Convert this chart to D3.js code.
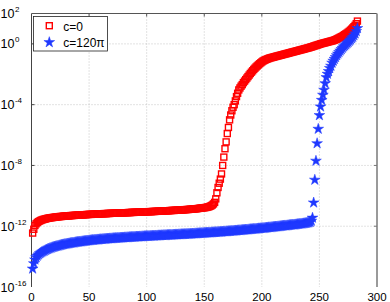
<!DOCTYPE html>
<html>
<head>
<meta charset="utf-8">
<script src="https://cdn.jsdelivr.net/npm/d3@7"></script>
<style>
  html, body { margin: 0; padding: 0; background: #fff; }
  svg { display: block; }
  text { font-family: "Liberation Sans", Arial, sans-serif; fill: #000; }
</style>
</head>
<body>
<div id="chart"></div>
<script>
// series labels
var seriesNames = ["c=0", "c=120\u03C0"];

// log10 of the plotted values, index 1..283
var redExp = [
  -12.45,-12.2,-11.95,-11.84,-11.76,-11.70,-11.66,-11.62,-11.59,-11.56,
  -11.54,-11.52,-11.50,-11.48,-11.47,-11.45,-11.44,-11.43,-11.42,-11.41,
  -11.40,-11.39,-11.38,-11.37,-11.36,-11.36,-11.35,-11.34,-11.33,-11.33,
  -11.32,-11.32,-11.31,-11.30,-11.30,-11.29,-11.29,-11.28,-11.28,-11.27,
  -11.27,-11.26,-11.26,-11.25,-11.25,-11.24,-11.24,-11.23,-11.23,-11.22,
  -11.22,-11.22,-11.21,-11.21,-11.20,-11.20,-11.20,-11.19,-11.19,-11.18,
  -11.18,-11.18,-11.17,-11.17,-11.17,-11.16,-11.16,-11.16,-11.15,-11.15,
  -11.15,-11.14,-11.14,-11.14,-11.13,-11.13,-11.13,-11.12,-11.12,-11.12,
  -11.11,-11.11,-11.11,-11.10,-11.10,-11.10,-11.09,-11.09,-11.09,-11.08,
  -11.08,-11.08,-11.07,-11.07,-11.07,-11.06,-11.06,-11.06,-11.05,-11.05,
  -11.05,-11.04,-11.04,-11.04,-11.03,-11.03,-11.03,-11.02,-11.02,-11.01,
  -11.01,-11.01,-11.00,-11.00,-10.99,-10.99,-10.99,-10.98,-10.98,-10.97,
  -10.97,-10.96,-10.96,-10.96,-10.95,-10.95,-10.94,-10.94,-10.93,-10.93,
  -10.92,-10.92,-10.91,-10.91,-10.90,-10.90,-10.89,-10.88,-10.88,-10.87,
  -10.86,-10.86,-10.85,-10.84,-10.83,-10.82,-10.81,-10.80,-10.79,-10.78,
  -10.77,-10.76,-10.74,-10.72,-10.69,-10.65,-10.60,-10.53,-10.43,-10.2,
  -9.8,-9.45,-9.17,-8.9,-8.56,-8.0,-7.45,-6.9,-6.45,-5.9,
  -5.5,-5.0,-4.68,-4.4,-4.17,-4.0,-3.75,-3.47,-3.25,-3.03,
  -2.9,-2.78,-2.68,-2.55,-2.45,-2.35,-2.25,-2.15,-2.05,-1.95,
  -1.86,-1.77,-1.68,-1.60,-1.52,-1.45,-1.38,-1.31,-1.25,-1.19,
  -1.13,-1.09,-1.05,-1.02,-0.99,-0.96,-0.93,-0.91,-0.89,-0.87,
  -0.85,-0.83,-0.81,-0.79,-0.77,-0.75,-0.73,-0.71,-0.69,-0.67,
  -0.65,-0.63,-0.61,-0.59,-0.57,-0.55,-0.53,-0.51,-0.49,-0.47,
  -0.45,-0.43,-0.41,-0.39,-0.37,-0.35,-0.33,-0.31,-0.29,-0.27,
  -0.25,-0.22,-0.20,-0.18,-0.15,-0.13,-0.10,-0.08,-0.05,-0.03,
  0.00,0.02,0.04,0.06,0.08,0.10,0.12,0.14,0.16,0.18,
  0.20,0.22,0.25,0.28,0.31,0.35,0.39,0.43,0.47,0.51,
  0.56,0.61,0.66,0.71,0.77,0.83,0.90,0.97,1.05,1.13,
  1.22,1.33,1.50
];

var blueExp = [
  -14.8,-14.45,-14.2,-14.05,-13.95,-13.87,-13.8,-13.75,-13.7,-13.66,
  -13.62,-13.58,-13.54,-13.51,-13.48,-13.45,-13.42,-13.39,-13.37,-13.35,
  -13.33,-13.31,-13.29,-13.27,-13.25,-13.23,-13.21,-13.20,-13.18,-13.17,
  -13.15,-13.14,-13.13,-13.11,-13.10,-13.09,-13.08,-13.06,-13.05,-13.04,
  -13.03,-13.02,-13.01,-13.00,-12.99,-12.98,-12.97,-12.96,-12.95,-12.94,
  -12.93,-12.92,-12.91,-12.91,-12.90,-12.89,-12.88,-12.88,-12.87,-12.86,
  -12.86,-12.85,-12.84,-12.84,-12.83,-12.82,-12.82,-12.81,-12.81,-12.80,
  -12.79,-12.79,-12.78,-12.78,-12.77,-12.77,-12.76,-12.76,-12.75,-12.75,
  -12.74,-12.74,-12.73,-12.73,-12.72,-12.72,-12.71,-12.71,-12.70,-12.70,
  -12.69,-12.69,-12.69,-12.68,-12.68,-12.67,-12.67,-12.66,-12.66,-12.65,
  -12.65,-12.65,-12.64,-12.64,-12.63,-12.63,-12.63,-12.62,-12.62,-12.61,
  -12.61,-12.61,-12.60,-12.60,-12.59,-12.59,-12.59,-12.58,-12.58,-12.57,
  -12.57,-12.57,-12.56,-12.56,-12.55,-12.55,-12.55,-12.54,-12.54,-12.53,
  -12.53,-12.53,-12.52,-12.52,-12.51,-12.51,-12.51,-12.50,-12.50,-12.49,
  -12.49,-12.48,-12.48,-12.47,-12.47,-12.46,-12.46,-12.45,-12.45,-12.44,
  -12.44,-12.43,-12.43,-12.42,-12.42,-12.41,-12.41,-12.40,-12.40,-12.39,
  -12.39,-12.38,-12.38,-12.37,-12.37,-12.36,-12.35,-12.35,-12.34,-12.34,
  -12.33,-12.33,-12.32,-12.31,-12.31,-12.30,-12.29,-12.29,-12.28,-12.27,
  -12.27,-12.26,-12.25,-12.25,-12.24,-12.23,-12.23,-12.22,-12.21,-12.20,
  -12.20,-12.19,-12.18,-12.18,-12.17,-12.16,-12.15,-12.15,-12.14,-12.13,
  -12.12,-12.12,-12.11,-12.10,-12.09,-12.08,-12.08,-12.07,-12.06,-12.05,
  -12.04,-12.03,-12.03,-12.02,-12.01,-12.00,-11.99,-11.98,-11.97,-11.96,
  -11.96,-11.95,-11.94,-11.93,-11.92,-11.91,-11.90,-11.90,-11.89,-11.88,
  -11.87,-11.86,-11.85,-11.84,-11.83,-11.82,-11.81,-11.80,-11.79,-11.77,
  -11.75,-11.72,-11.65,-11.45,-10.45,-8.95,-7.7,-6.55,-5.6,-4.7,
  -4.13,-3.7,-3.36,-3.03,-2.6,-2.2,-1.98,-1.8,-1.6,-1.45,
  -1.25,-1.12,-1.0,-0.88,-0.76,-0.65,-0.55,-0.45,-0.36,-0.27,
  -0.18,-0.11,-0.04,0.04,0.11,0.19,0.27,0.36,0.45,0.56,
  0.68,0.83,1.03
];

// axis ticks
var xTicks = [0, 50, 100, 150, 200, 250, 300];
var yTickExps = [2, 0, -4, -8, -12, -16];

var width = 390, height = 302;
var plotL = 31.5, plotR = 377, plotT = 13.5, plotB = 287;
var sq = 6;          // square marker side
var red = "#ff0000", blue = "#1f38ff";

var svg = d3.select("#chart").append("svg")
    .attr("width", width)
    .attr("height", height);

var x = d3.scaleLinear().domain([0, 300]).range([plotL, plotR]);
var y = d3.scaleLog().domain([1e-16, 1e2]).range([plotB, plotT]);

// dotted grid
svg.selectAll("line.gx")
    .data(xTicks.slice(1, -1))
    .enter().append("line")
    .attr("x1", function (d) { return x(d); })
    .attr("x2", function (d) { return x(d); })
    .attr("y1", plotT).attr("y2", plotB)
    .attr("stroke", "#b8b8b8")
    .attr("stroke-width", 0.8)
    .style("stroke-dasharray", "1, 2");

svg.selectAll("line.gy")
    .data(yTickExps.slice(1, -1))
    .enter().append("line")
    .attr("x1", plotL).attr("x2", plotR)
    .attr("y1", function (d) { return y(Math.pow(10, d)); })
    .attr("y2", function (d) { return y(Math.pow(10, d)); })
    .attr("stroke", "#b8b8b8")
    .attr("stroke-width", 0.8)
    .style("stroke-dasharray", "1, 2");

// axes frame (left, top, right)
svg.append("line")
    .attr("x1", plotL).attr("x2", plotL).attr("y1", plotT).attr("y2", plotB)
    .attr("stroke", "#444").attr("stroke-width", 1);
svg.append("line")
    .attr("x1", plotL).attr("x2", plotR).attr("y1", plotT).attr("y2", plotT)
    .attr("stroke", "#555").attr("stroke-width", 1);
svg.append("line")
    .attr("x1", plotR).attr("x2", plotR).attr("y1", plotT).attr("y2", plotB)
    .attr("stroke", "#9a9a9a").attr("stroke-width", 2);

// small inward ticks
yTickExps.slice(1, -1).forEach(function (e) {
    var yy = y(Math.pow(10, e));
    svg.append("line").attr("x1", plotL).attr("x2", plotL + 3)
        .attr("y1", yy).attr("y2", yy).attr("stroke", "#444");
    svg.append("line").attr("x1", plotR - 3).attr("x2", plotR)
        .attr("y1", yy).attr("y2", yy).attr("stroke", "#777");
});
xTicks.slice(1, -1).forEach(function (t) {
    svg.append("line").attr("x1", x(t)).attr("x2", x(t))
        .attr("y1", plotT).attr("y2", plotT + 3).attr("stroke", "#555");
});

// x tick labels
svg.selectAll("text.xl")
    .data(xTicks)
    .enter().append("text")
    .attr("x", function (d) { return x(d); })
    .attr("y", 300.5)
    .attr("text-anchor", "middle")
    .attr("font-size", "11.5px")
    .text(function (d) { return d; });

// y tick labels 10^n
var yl = svg.selectAll("text.yl")
    .data(yTickExps)
    .enter().append("text")
    .attr("x", 0.5)
    .attr("y", function (d) { return y(Math.pow(10, d)) + 4.5; })
    .attr("font-size", "12.5px");
yl.append("tspan").text("10");
yl.append("tspan")
    .attr("dy", -6)
    .attr("dx", 0.5)
    .attr("font-size", "8px")
    .text(function (d) { return d; });

// markers
var star = d3.symbol().type(d3.symbolStar).size(36);

svg.append("g").selectAll("rect")
    .data(redExp)
    .enter().append("rect")
    .attr("x", function (d, i) { return x(i + 1) - sq / 2; })
    .attr("y", function (d) { return y(Math.pow(10, d)) - sq / 2; })
    .attr("width", sq).attr("height", sq)
    .attr("fill", "none")
    .attr("stroke", red)
    .attr("stroke-width", 1.4);

svg.append("g").selectAll("path")
    .data(blueExp)
    .enter().append("path")
    .attr("d", star)
    .attr("transform", function (d, i) {
        return "translate(" + x(i + 1) + "," + y(Math.pow(10, d)) + ")";
    })
    .attr("fill", blue)
    .attr("stroke", blue)
    .attr("stroke-width", 0.5);

// legend
var lg = svg.append("g");
lg.append("rect")
    .attr("x", 33.5).attr("y", 16.5)
    .attr("width", 74).attr("height", 34.5)
    .attr("fill", "#fff").attr("stroke", "#222").attr("stroke-width", 0.8);
lg.append("rect")
    .attr("x", 49.3 - sq / 2).attr("y", 25.7 - sq / 2)
    .attr("width", sq).attr("height", sq)
    .attr("fill", "none").attr("stroke", red).attr("stroke-width", 1.4);
lg.append("path")
    .attr("d", star)
    .attr("transform", "translate(49.3,42.3)")
    .attr("fill", blue).attr("stroke", blue).attr("stroke-width", 0.5);
lg.selectAll("text")
    .data(seriesNames)
    .enter().append("text")
    .attr("x", 63.3)
    .attr("y", function (d, i) { return i === 0 ? 30.5 : 46.7; })
    .attr("font-size", "12px")
    .text(function (d) { return d; });
</script>
</body>
</html>
